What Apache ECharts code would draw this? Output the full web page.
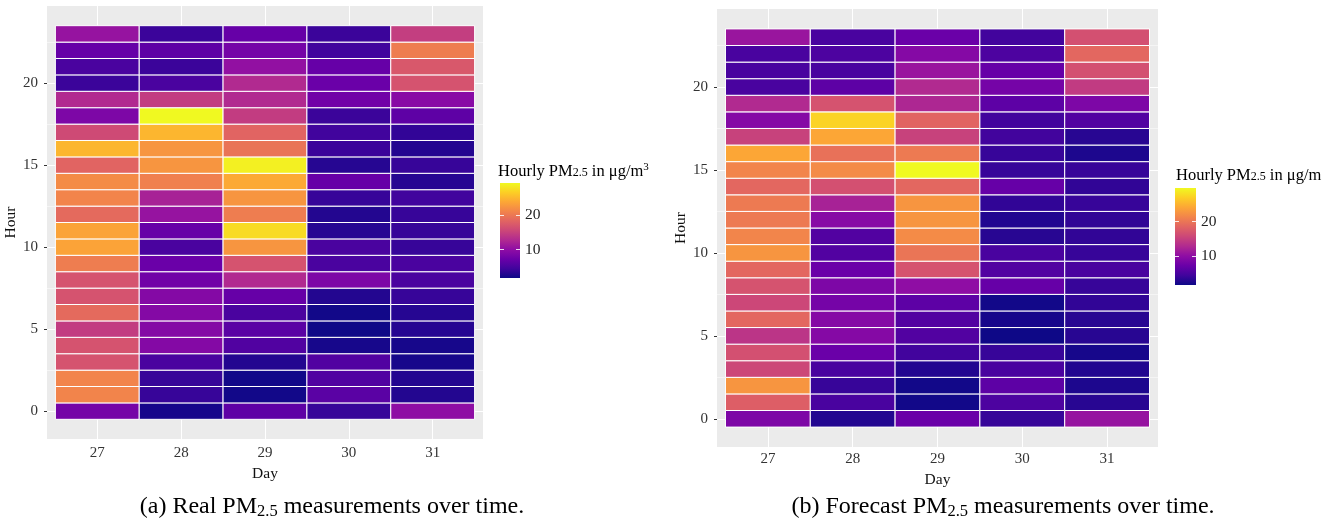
<!DOCTYPE html>
<html><head><meta charset="utf-8">
<script src="https://cdn.jsdelivr.net/npm/echarts@6/dist/echarts.min.js"></script>
<style>html,body{margin:0;padding:0;background:#fff}#c{width:1342px;height:523px}</style>
</head><body><div id="c"></div><script>
// ---- data ----
const days = [27, 28, 29, 30, 31];
const hours = [0, 1, 2, 3, 4, 5, 6, 7, 8, 9, 10, 11, 12, 13, 14, 15, 16, 17, 18, 19, 20, 21, 22, 23];
const yTicks = [0, 5, 10, 15, 20];
const yMinorTicks = [2.5, 7.5, 12.5, 17.5, 22.5];
const legendTicks = [10, 20];
// rows = hour 0..23, columns = day 27..31
const realPM = [
  [8.1, 2.3, 6.5, 4.0, 10.0],
  [21.1, 4.0, 2.0, 6.2, 2.9],
  [21.1, 4.0, 2.0, 5.6, 2.9],
  [16.7, 5.1, 2.9, 5.6, 2.3],
  [16.7, 9.2, 5.6, 2.3, 2.3],
  [14.5, 9.2, 6.2, 1.8, 3.1],
  [18.9, 9.2, 5.1, 2.0, 3.1],
  [16.7, 9.2, 7.0, 2.9, 4.0],
  [16.7, 7.8, 12.8, 8.7, 5.1],
  [20.5, 7.3, 16.7, 5.1, 5.1],
  [23.6, 5.1, 22.5, 5.1, 4.0],
  [23.6, 7.0, 27.5, 3.1, 4.0],
  [18.9, 10.6, 20.5, 2.9, 4.0],
  [21.1, 12.0, 22.5, 4.0, 4.5],
  [21.7, 20.8, 24.1, 7.0, 3.1],
  [18.3, 22.5, 28.8, 3.1, 4.0],
  [25.0, 22.5, 19.7, 4.2, 2.9],
  [15.9, 25.0, 18.3, 4.5, 3.7],
  [8.7, 29.4, 14.5, 4.2, 6.5],
  [12.8, 14.5, 12.8, 7.8, 9.5],
  [4.2, 5.1, 12.8, 7.3, 16.7],
  [5.1, 4.2, 10.3, 7.0, 17.2],
  [7.0, 6.5, 8.1, 4.5, 20.5],
  [10.6, 4.2, 7.0, 4.2, 14.7]
];
const forecastPM = [
  [8.6, 2.7, 7.2, 3.8, 10.6],
  [17.9, 4.9, 1.8, 5.2, 3.0],
  [22.7, 3.8, 1.8, 6.3, 2.4],
  [15.6, 4.9, 2.7, 4.9, 2.7],
  [16.5, 7.2, 4.4, 3.8, 2.1],
  [13.9, 9.2, 5.5, 1.6, 3.0],
  [18.7, 9.2, 5.5, 2.1, 3.0],
  [15.6, 8.0, 6.3, 1.8, 3.5],
  [16.8, 8.6, 10.0, 6.9, 3.8],
  [18.7, 7.2, 16.8, 5.5, 4.9],
  [22.7, 5.5, 19.9, 4.9, 3.8],
  [21.3, 5.5, 21.8, 3.0, 3.5],
  [20.4, 9.4, 22.7, 2.7, 3.5],
  [20.4, 12.0, 22.7, 3.5, 3.8],
  [18.7, 16.5, 18.7, 6.9, 3.5],
  [21.3, 21.8, 29.7, 3.8, 3.8],
  [24.1, 19.6, 20.4, 3.8, 2.4],
  [15.1, 24.1, 15.1, 4.4, 3.0],
  [9.2, 27.2, 18.4, 4.4, 5.5],
  [12.8, 16.8, 12.5, 6.3, 8.6],
  [4.9, 6.3, 12.8, 8.0, 14.5],
  [4.9, 4.9, 10.8, 6.9, 16.5],
  [4.9, 5.2, 9.2, 5.2, 18.7],
  [10.8, 4.9, 7.2, 4.4, 16.5]
];
const realRange = [1.75, 29.4];
const forecastRange = [1.55, 29.7];
const plasma = ['#0d0887', '#41049d', '#6a00a8', '#8f0da4', '#b12a90', '#cc4778',
                '#e16462', '#f2844b', '#fca636', '#fcce25', '#f0f921'];

// ---- build ----
const FONT = 'Liberation Serif';
function toCells(table) {
  const out = [];
  hours.forEach(function (h, r) {
    days.forEach(function (d, c) { out.push([d, h, table[r][c]]); });
  });
  return out;
}
function renderCell(params, api) {
  const x = api.value(0), y = api.value(1);
  const p0 = api.coord([x - 0.5, y + 0.5]);
  const p1 = api.coord([x + 0.5, y - 0.5]);
  return {
    type: 'rect',
    shape: { x: p0[0], y: p0[1], width: p1[0] - p0[0], height: p1[1] - p0[1] },
    style: { fill: api.visual('color'), stroke: '#ffffff', lineWidth: 1 }
  };
}
function renderBar(params, api) {
  const p0 = api.coord([api.value(0), api.value(3)]);
  const p1 = api.coord([api.value(2), api.value(1)]);
  const stops = plasma.map(function (c, i) { return { offset: i / (plasma.length - 1), color: c }; });
  return {
    type: 'rect',
    shape: { x: p0[0], y: p0[1], width: p1[0] - p0[0], height: p1[1] - p0[1] },
    style: { fill: new echarts.graphic.LinearGradient(0, 1, 0, 0, stops) }
  };
}
const labelStyle = { fontFamily: FONT, fontSize: 15, color: '#333' };
const nameStyle = { fontFamily: FONT, fontSize: 15.5, color: '#111' };

function mainX(gi, margin, gap) {
  return {
    type: 'value', gridIndex: gi, min: 26.4, max: 31.6,
    axisLine: { show: false },
    axisTick: { show: true, length: 3, customValues: days, lineStyle: { color: '#333' } },
    axisLabel: Object.assign({ customValues: days, margin: margin }, labelStyle),
    splitLine: { show: true, lineStyle: { color: '#ffffff', width: 1 } },
    name: 'Day', nameLocation: 'middle', nameGap: gap, nameTextStyle: nameStyle
  };
}
function mainY(gi, gap) {
  return {
    type: 'value', gridIndex: gi, min: -1.7, max: 24.7,
    axisLine: { show: false },
    axisTick: { show: true, length: 3, customValues: yTicks, lineStyle: { color: '#333' } },
    axisLabel: Object.assign({ customValues: yTicks, margin: 9 }, labelStyle),
    splitLine: { show: true, lineStyle: { color: '#ffffff', width: 1 } },
    name: 'Hour', nameLocation: 'middle', nameGap: gap, nameRotate: 90, nameTextStyle: nameStyle
  };
}
function minorY(gi) {
  return {
    type: 'value', gridIndex: gi, min: -1.7, max: 24.7, position: 'left',
    axisLine: { show: false },
    axisTick: { show: false, customValues: yMinorTicks },
    axisLabel: { show: false, customValues: yMinorTicks },
    splitLine: { show: true, lineStyle: { color: '#ffffff', width: 0.5 } }
  };
}
function legendYs(gi, range) {
  return [{
    type: 'value', gridIndex: gi, min: range[0], max: range[1], position: 'left', z: 5,
    axisLine: { show: false },
    axisTick: { show: true, inside: true, length: 4, customValues: legendTicks, lineStyle: { color: 'rgba(255,255,255,0.85)' } },
    axisLabel: { show: false },
    splitLine: { show: false }
  }, {
    type: 'value', gridIndex: gi, min: range[0], max: range[1], position: 'right', z: 5,
    axisLine: { show: false },
    axisTick: { show: true, inside: true, length: 4, customValues: legendTicks, lineStyle: { color: 'rgba(255,255,255,0.85)' } },
    axisLabel: Object.assign({ customValues: legendTicks, margin: 5 }, labelStyle, { color: '#222', fontSize: 15.5 }),
    splitLine: { show: false }
  }];
}
function legendX(gi) {
  return { type: 'value', gridIndex: gi, min: 0, max: 1, show: false };
}

const subRich = {
  t: { fontFamily: FONT, fontSize: 16.5, color: '#111', lineHeight: 19 },
  s: { fontFamily: FONT, fontSize: 12, color: '#111', lineHeight: 19, padding: [3, 0, 0, 0] },
  p: { fontFamily: FONT, fontSize: 11, color: '#111', lineHeight: 19, padding: [0, 0, 9, 0] }
};
const capRich = {
  t: { fontFamily: FONT, fontSize: 24, color: '#111', lineHeight: 28 },
  s: { fontFamily: FONT, fontSize: 16.5, color: '#111', lineHeight: 28, padding: [10, 0, 0, 0] }
};

const chart = echarts.init(document.getElementById('c'), null, { renderer: 'canvas' });
chart.setOption({
  animation: false,
  backgroundColor: '#ffffff',
  grid: [
    { left: 47, top: 6, width: 436, height: 433, show: true, backgroundColor: '#ebebeb', borderWidth: 0 },
    { left: 717, top: 9, width: 441, height: 438, show: true, backgroundColor: '#ebebeb', borderWidth: 0 },
    { left: 500, top: 183, width: 20, height: 95 },
    { left: 1175, top: 188, width: 21, height: 97 }
  ],
  xAxis: [mainX(0, 7, 25), mainX(1, 5, 20), legendX(2), legendX(3)],
  yAxis: [mainY(0, 22), mainY(1, 25), minorY(0), minorY(1)]
    .concat(legendYs(2, realRange)).concat(legendYs(3, forecastRange)),
  visualMap: [
    { type: 'continuous', show: false, seriesIndex: 0, dimension: 2,
      min: realRange[0], max: realRange[1], inRange: { color: plasma } },
    { type: 'continuous', show: false, seriesIndex: 1, dimension: 2,
      min: forecastRange[0], max: forecastRange[1], inRange: { color: plasma } }
  ],
  series: [
    { type: 'custom', xAxisIndex: 0, yAxisIndex: 0, renderItem: renderCell,
      encode: { x: 0, y: 1 }, data: toCells(realPM) },
    { type: 'custom', xAxisIndex: 1, yAxisIndex: 1, renderItem: renderCell,
      encode: { x: 0, y: 1 }, data: toCells(forecastPM) },
    { type: 'custom', xAxisIndex: 2, yAxisIndex: 4, renderItem: renderBar,
      encode: { x: [0, 2], y: [1, 3] }, data: [[0, realRange[0], 1, realRange[1]]] },
    { type: 'custom', xAxisIndex: 3, yAxisIndex: 6, renderItem: renderBar,
      encode: { x: [0, 2], y: [1, 3] }, data: [[0, forecastRange[0], 1, forecastRange[1]]] }
  ],
  graphic: [
    { type: 'text', x: 498, y: 162, style: { text: '{t|Hourly PM}{s|2.5}{t| in μg/m}{p|3}', rich: subRich } },
    { type: 'text', x: 1176, y: 166, style: { text: '{t|Hourly PM}{s|2.5}{t| in μg/m}', rich: subRich } },
    { type: 'text', x: 332, y: 493, style: { text: '{t|(a) Real PM}{s|2.5}{t| measurements over time.}', rich: capRich, align: 'center' } },
    { type: 'text', x: 1003, y: 493, style: { text: '{t|(b) Forecast PM}{s|2.5}{t| measurements over time.}', rich: capRich, align: 'center' } }
  ]
});
</script></body></html>
